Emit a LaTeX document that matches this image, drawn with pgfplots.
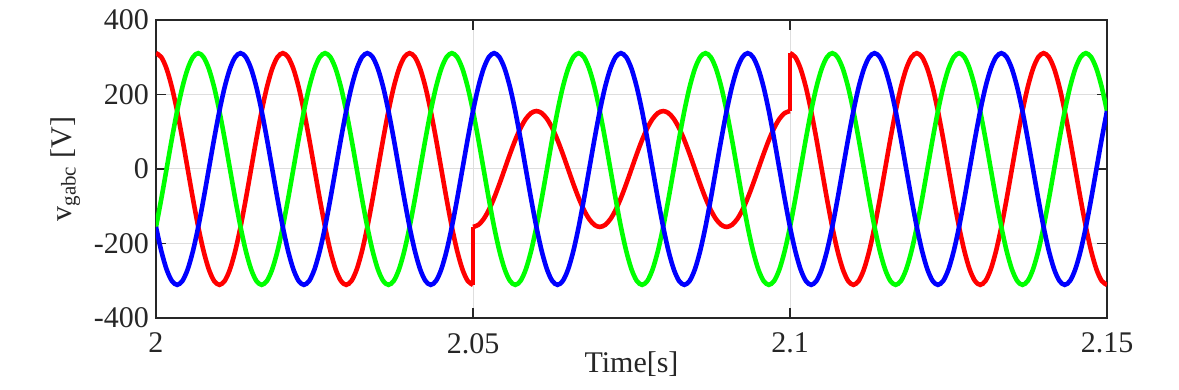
\documentclass[border=0pt]{standalone}
\usepackage{pgfplots}
\usepackage{pgfplotstable}
\usepackage{fontspec}
\setmainfont{Liberation Serif}
\pgfplotsset{compat=1.18}
\definecolor{frame}{RGB}{38,38,38}
\definecolor{gridc}{RGB}{222,222,222}

\pgfplotstableread{
t a b c
2.0 311 -155.5 -155.5
2.000833 300.4 -80.5 -219.9
2.001667 269.3 0 -269.3
2.0025 219.9 80.5 -300.4
2.003333 155.5 155.5 -311
2.004167 80.5 219.9 -300.4
2.005 0 269.3 -269.3
2.005833 -80.5 300.4 -219.9
2.006667 -155.5 311 -155.5
2.0075 -219.9 300.4 -80.5
2.008333 -269.3 269.3 0
2.009167 -300.4 219.9 80.5
2.01 -311 155.5 155.5
2.010833 -300.4 80.5 219.9
2.011667 -269.3 0 269.3
2.0125 -219.9 -80.5 300.4
2.013333 -155.5 -155.5 311
2.014167 -80.5 -219.9 300.4
2.015 0 -269.3 269.3
2.015833 80.5 -300.4 219.9
2.016667 155.5 -311 155.5
2.0175 219.9 -300.4 80.5
2.018333 269.3 -269.3 0
2.019167 300.4 -219.9 -80.5
2.02 311 -155.5 -155.5
2.020833 300.4 -80.5 -219.9
2.021667 269.3 0 -269.3
2.0225 219.9 80.5 -300.4
2.023333 155.5 155.5 -311
2.024167 80.5 219.9 -300.4
2.025 0 269.3 -269.3
2.025833 -80.5 300.4 -219.9
2.026667 -155.5 311 -155.5
2.0275 -219.9 300.4 -80.5
2.028333 -269.3 269.3 0
2.029167 -300.4 219.9 80.5
2.03 -311 155.5 155.5
2.030833 -300.4 80.5 219.9
2.031667 -269.3 0 269.3
2.0325 -219.9 -80.5 300.4
2.033333 -155.5 -155.5 311
2.034167 -80.5 -219.9 300.4
2.035 0 -269.3 269.3
2.035833 80.5 -300.4 219.9
2.036667 155.5 -311 155.5
2.0375 219.9 -300.4 80.5
2.038333 269.3 -269.3 0
2.039167 300.4 -219.9 -80.5
2.04 311 -155.5 -155.5
2.040833 300.4 -80.5 -219.9
2.041667 269.3 0 -269.3
2.0425 219.9 80.5 -300.4
2.043333 155.5 155.5 -311
2.044167 80.5 219.9 -300.4
2.045 0 269.3 -269.3
2.045833 -80.5 300.4 -219.9
2.046667 -155.5 311 -155.5
2.0475 -219.9 300.4 -80.5
2.048333 -269.3 269.3 0
2.049167 -300.4 219.9 80.5
2.05 -311 155.5 155.5
2.050833 -300.4 80.5 219.9
2.051667 -269.3 0 269.3
2.0525 -219.9 -80.5 300.4
2.053333 -155.5 -155.5 311
2.054167 -80.5 -219.9 300.4
2.055 0 -269.3 269.3
2.055833 80.5 -300.4 219.9
2.056667 155.5 -311 155.5
2.0575 219.9 -300.4 80.5
2.058333 269.3 -269.3 0
2.059167 300.4 -219.9 -80.5
2.06 311 -155.5 -155.5
2.060833 300.4 -80.5 -219.9
2.061667 269.3 0 -269.3
2.0625 219.9 80.5 -300.4
2.063333 155.5 155.5 -311
2.064167 80.5 219.9 -300.4
2.065 0 269.3 -269.3
2.065833 -80.5 300.4 -219.9
2.066667 -155.5 311 -155.5
2.0675 -219.9 300.4 -80.5
2.068333 -269.3 269.3 0
2.069167 -300.4 219.9 80.5
2.07 -311 155.5 155.5
2.070833 -300.4 80.5 219.9
2.071667 -269.3 0 269.3
2.0725 -219.9 -80.5 300.4
2.073333 -155.5 -155.5 311
2.074167 -80.5 -219.9 300.4
2.075 0 -269.3 269.3
2.075833 80.5 -300.4 219.9
2.076667 155.5 -311 155.5
2.0775 219.9 -300.4 80.5
2.078333 269.3 -269.3 0
2.079167 300.4 -219.9 -80.5
2.08 311 -155.5 -155.5
2.080833 300.4 -80.5 -219.9
2.081667 269.3 0 -269.3
2.0825 219.9 80.5 -300.4
2.083333 155.5 155.5 -311
2.084167 80.5 219.9 -300.4
2.085 0 269.3 -269.3
2.085833 -80.5 300.4 -219.9
2.086667 -155.5 311 -155.5
2.0875 -219.9 300.4 -80.5
2.088333 -269.3 269.3 0
2.089167 -300.4 219.9 80.5
2.09 -311 155.5 155.5
2.090833 -300.4 80.5 219.9
2.091667 -269.3 0 269.3
2.0925 -219.9 -80.5 300.4
2.093333 -155.5 -155.5 311
2.094167 -80.5 -219.9 300.4
2.095 0 -269.3 269.3
2.095833 80.5 -300.4 219.9
2.096667 155.5 -311 155.5
2.0975 219.9 -300.4 80.5
2.098333 269.3 -269.3 0
2.099167 300.4 -219.9 -80.5
2.1 311 -155.5 -155.5
2.100833 300.4 -80.5 -219.9
2.101667 269.3 0 -269.3
2.1025 219.9 80.5 -300.4
2.103333 155.5 155.5 -311
2.104167 80.5 219.9 -300.4
2.105 0 269.3 -269.3
2.105833 -80.5 300.4 -219.9
2.106667 -155.5 311 -155.5
2.1075 -219.9 300.4 -80.5
2.108333 -269.3 269.3 0
2.109167 -300.4 219.9 80.5
2.11 -311 155.5 155.5
2.110833 -300.4 80.5 219.9
2.111667 -269.3 0 269.3
2.1125 -219.9 -80.5 300.4
2.113333 -155.5 -155.5 311
2.114167 -80.5 -219.9 300.4
2.115 0 -269.3 269.3
2.115833 80.5 -300.4 219.9
2.116667 155.5 -311 155.5
2.1175 219.9 -300.4 80.5
2.118333 269.3 -269.3 0
2.119167 300.4 -219.9 -80.5
2.12 311 -155.5 -155.5
2.120833 300.4 -80.5 -219.9
2.121667 269.3 0 -269.3
2.1225 219.9 80.5 -300.4
2.123333 155.5 155.5 -311
2.124167 80.5 219.9 -300.4
2.125 0 269.3 -269.3
2.125833 -80.5 300.4 -219.9
2.126667 -155.5 311 -155.5
2.1275 -219.9 300.4 -80.5
2.128333 -269.3 269.3 0
2.129167 -300.4 219.9 80.5
2.13 -311 155.5 155.5
2.130833 -300.4 80.5 219.9
2.131667 -269.3 0 269.3
2.1325 -219.9 -80.5 300.4
2.133333 -155.5 -155.5 311
2.134167 -80.5 -219.9 300.4
2.135 0 -269.3 269.3
2.135833 80.5 -300.4 219.9
2.136667 155.5 -311 155.5
2.1375 219.9 -300.4 80.5
2.138333 269.3 -269.3 0
2.139167 300.4 -219.9 -80.5
2.14 311 -155.5 -155.5
2.140833 300.4 -80.5 -219.9
2.141667 269.3 0 -269.3
2.1425 219.9 80.5 -300.4
2.143333 155.5 155.5 -311
2.144167 80.5 219.9 -300.4
2.145 0 269.3 -269.3
2.145833 -80.5 300.4 -219.9
2.146667 -155.5 311 -155.5
2.1475 -219.9 300.4 -80.5
2.148333 -269.3 269.3 0
2.149167 -300.4 219.9 80.5
2.15 -311 155.5 155.5
}\maintab

\pgfplotstableread{
t a
2.05 -155.5
2.050833 -150.2
2.051667 -134.65
2.0525 -109.95
2.053333 -77.75
2.054167 -40.25
2.055 0
2.055833 40.25
2.056667 77.75
2.0575 109.95
2.058333 134.65
2.059167 150.2
2.06 155.5
2.060833 150.2
2.061667 134.65
2.0625 109.95
2.063333 77.75
2.064167 40.25
2.065 0
2.065833 -40.25
2.066667 -77.75
2.0675 -109.95
2.068333 -134.65
2.069167 -150.2
2.07 -155.5
2.070833 -150.2
2.071667 -134.65
2.0725 -109.95
2.073333 -77.75
2.074167 -40.25
2.075 0
2.075833 40.25
2.076667 77.75
2.0775 109.95
2.078333 134.65
2.079167 150.2
2.08 155.5
2.080833 150.2
2.081667 134.65
2.0825 109.95
2.083333 77.75
2.084167 40.25
2.085 0
2.085833 -40.25
2.086667 -77.75
2.0875 -109.95
2.088333 -134.65
2.089167 -150.2
2.09 -155.5
2.090833 -150.2
2.091667 -134.65
2.0925 -109.95
2.093333 -77.75
2.094167 -40.25
2.095 0
2.095833 40.25
2.096667 77.75
2.0975 109.95
2.098333 134.65
2.099167 150.2
2.1 155.5
}\sagtab

\begin{document}
\begin{tikzpicture}
\begin{axis}[
  scale only axis,
  width=475.5pt, height=149pt,
  xmin=2, xmax=2.15, ymin=-400, ymax=400,
  xtick={2,2.05,2.1,2.15},
  xticklabels={2,2.05,2.1,2.15},
  ytick={-400,-200,0,200,400},
  /pgf/number format/assume math mode=true,
  tick align=inside,
  major tick length=5pt,
  tick style={frame, line width=0.9pt},
  axis line style={frame, line width=1.2pt},
  grid=major,
  major grid style={gridc, line width=0.5pt},
  every tick label/.append style={font=\fontsize{15}{18}\selectfont, text=frame},
  xticklabel style={yshift=-4pt},
  xlabel={Time[s]},
  every axis x label/.style={at={(axis description cs:0.5,0)}, anchor=center, yshift=-23pt, font=\fontsize{15}{18}\selectfont, text=frame},
  ylabel={v\textsubscript{gabc} [V]},
  ylabel style={font=\fontsize{15}{18}\selectfont, text=frame},
  every axis plot/.append style={line width=2.3pt},
]
\addplot[red, smooth, restrict x to domain=1.99:2.0501] table[x=t, y=a] {\maintab};
\addplot[red, smooth] table[x=t, y=a] {\sagtab};
\addplot[red, smooth, restrict x to domain=2.0999:2.16] table[x=t, y=a] {\maintab};
\addplot[red] coordinates {(2.05,-311) (2.05,-155.5)};
\addplot[red] coordinates {(2.1,155.5) (2.1,311)};
\addplot[green, smooth] table[x=t, y=b] {\maintab};
\addplot[blue, smooth] table[x=t, y=c] {\maintab};
\end{axis}
\path (current axis.south west) +(-78pt,-36pt);
\path (current axis.north east) +(36pt,10pt);
\end{tikzpicture}
\end{document}
